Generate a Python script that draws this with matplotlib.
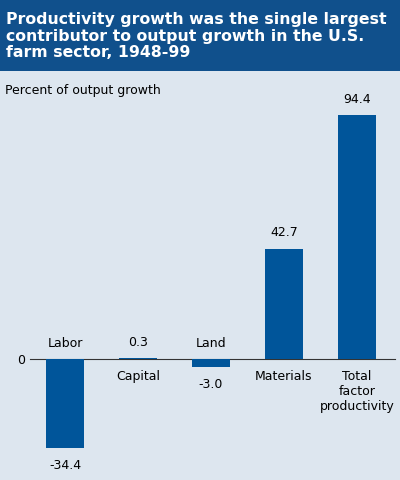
import matplotlib
matplotlib.use("Agg")
import matplotlib.pyplot as plt

categories = ["Labor", "Capital", "Land", "Materials", "Total\nfactor\nproductivity"]
values = [-34.4, 0.3, -3.0, 42.7, 94.4]

W, H = 400, 481
fig = plt.figure(figsize=(W/100, H/100), dpi=100)
fig.patch.set_facecolor("#dde6ef")
blue = "#00559a"

# title band
tb = fig.add_axes([0, 1-72/H, 1, 72/H])
tb.set_facecolor("#10508c"); tb.set_xticks([]); tb.set_yticks([])
for s in tb.spines.values(): s.set_visible(False)
tb.text(6/W*0+0.015, 0.5, "Productivity growth was the single largest\ncontributor to output growth in the U.S.\nfarm sector, 1948-99",
        color="white", fontsize=11.3, fontweight="bold", va="center", ha="left",
        linespacing=1.15, transform=tb.transAxes)

ax = fig.add_axes([0, 0, 1, (H-72)/H])
ax.set_facecolor("#dde6ef")
ppu = 244/94.4
ax.set_xlim(-65/73, (400-65)/73)
ax.set_ylim(-(481-360)/ppu, (360-72)/ppu)
for s in ax.spines.values(): s.set_visible(False)
ax.set_xticks([]); ax.set_yticks([])
x = list(range(len(values)))
ax.bar(x, values, width=38/73, color=blue, zorder=3)
ax.axhline(0, xmin=30/400, xmax=395/400, color="#333333", lw=0.8, zorder=2)
ax.text(-0.6, 0, "0", ha="center", va="center", fontsize=9)
ax.text(5/400, 0.97, "Percent of output growth", transform=ax.transAxes, fontsize=9, va="top")
off = 4
for i, (c, v) in enumerate(zip(categories, values)):
    if v < 0:
        ax.text(i, off, c, ha="center", va="bottom", fontsize=9)
        ax.text(i, v - off, f"{v:.1f}", ha="center", va="top", fontsize=9)
    else:
        ax.text(i, v + off, f"{v:.1f}", ha="center", va="bottom", fontsize=9)
        ax.text(i, -off, c, ha="center", va="top", fontsize=9, linespacing=1.2)

fig.savefig("out.png", dpi=100, facecolor=fig.get_facecolor())
